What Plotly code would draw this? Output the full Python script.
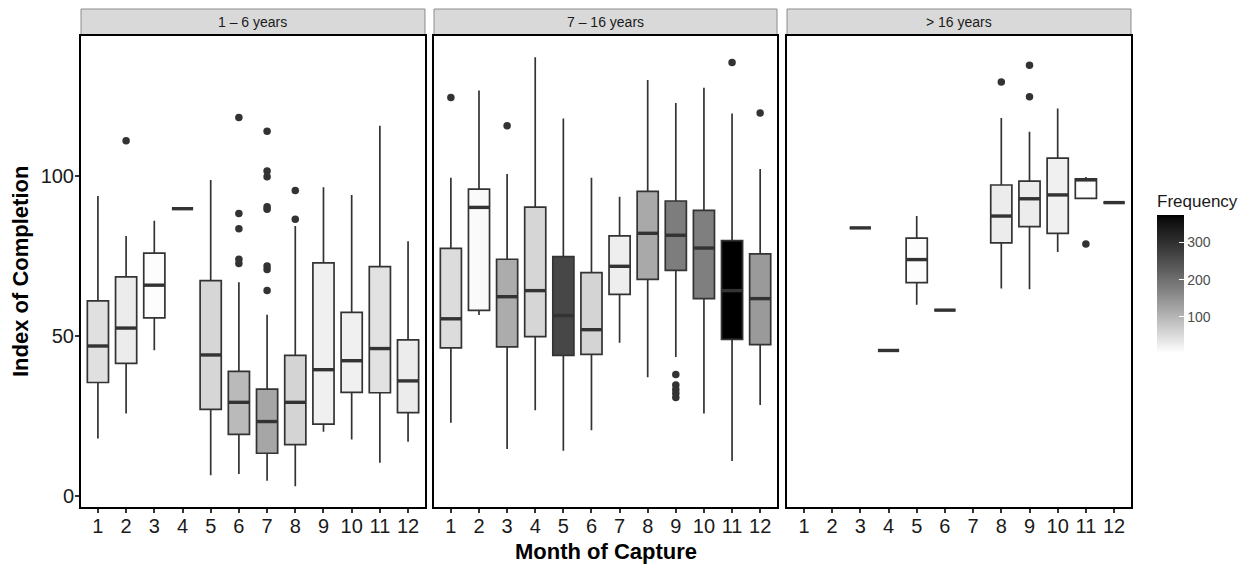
import plotly.graph_objects as go
from plotly.colors import sample_colorscale

months = list(range(1, 13))
month_labels = [str(m) for m in months]
panel_titles = ["1 – 6 years", "7 – 16 years", "> 16 years"]

# ---- 1 – 6 years -------------------------------------------------------
p1_low = [18.0, 25.8, 45.6, 89.8, 6.5, 6.9, 4.8, 3.1, 20.1, 17.7, 10.4, 17.0]
p1_q1 = [35.5, 41.5, 55.7, 89.8, 27.1, 19.3, 13.4, 16.1, 22.5, 32.4, 32.3, 26.1]
p1_med = [46.9, 52.5, 65.9, 89.8, 44.1, 29.3, 23.3, 29.3, 39.5, 42.3, 46.1, 36.0]
p1_q3 = [61.0, 68.5, 75.9, 89.8, 67.3, 39.0, 33.4, 44.0, 72.9, 57.4, 71.7, 48.8]
p1_high = [93.8, 81.3, 86.0, 89.8, 98.8, 66.8, 56.7, 84.4, 96.5, 94.1, 115.7, 79.6]
p1_freq = [41, 25, 3, 1, 55, 92, 120, 57, 20, 21, 38, 26]
p1_out_month = [2, 6, 6, 6, 6, 6, 7, 7, 7, 7, 7, 7, 7, 7, 8, 8]
p1_out_value = [111.0, 118.3, 88.3, 83.5, 74.0, 72.7,
                114.0, 101.6, 99.8, 90.4, 89.6, 71.9, 70.8, 64.2, 95.5, 86.5]

# ---- 7 – 16 years ------------------------------------------------------
p2_low = [22.9, 56.6, 14.7, 26.8, 14.2, 20.6, 47.9, 37.1, 43.5, 25.8, 11.0, 28.5]
p2_q1 = [46.3, 58.0, 46.6, 49.8, 44.0, 44.3, 63.0, 67.7, 70.5, 61.7, 49.0, 47.3]
p2_med = [55.4, 90.2, 62.3, 64.2, 56.4, 52.0, 71.8, 82.1, 81.5, 77.5, 64.2, 61.7]
p2_q3 = [77.4, 95.9, 74.0, 90.3, 74.8, 69.8, 81.3, 95.2, 92.2, 89.3, 79.8, 75.7]
p2_high = [99.5, 126.7, 100.6, 137.1, 118.0, 99.5, 93.5, 130.0, 122.8, 127.6, 119.5, 102.2]
p2_freq = [46, 7, 111, 55, 261, 57, 23, 115, 178, 175, 373, 136]
p2_out_month = [1, 3, 9, 9, 9, 9, 9, 11, 12]
p2_out_value = [124.5, 115.7, 38.0, 34.7, 33.3, 32.1, 30.8, 135.5, 119.7]

# ---- > 16 years --------------------------------------------------------
p3_low = [None, None, 83.8, 45.5, 59.8, 58.1, None, 64.9, 64.6, 76.3, 93.0, 91.7]
p3_q1 = [None, None, 83.8, 45.5, 66.7, 58.1, None, 79.1, 84.2, 82.1, 93.0, 91.7]
p3_med = [None, None, 83.8, 45.5, 73.9, 58.1, None, 87.5, 92.9, 94.1, 98.8, 91.7]
p3_q3 = [None, None, 83.8, 45.5, 80.6, 58.1, None, 97.2, 98.4, 105.6, 99.1, 91.7]
p3_high = [None, None, 83.8, 45.5, 87.5, 58.1, None, 118.1, 113.8, 121.1, 99.7, 91.7]
p3_freq = [None, None, 1, 1, 3, 1, None, 25, 25, 21, 4, 1]
p3_out_month = [8, 9, 9, 11]
p3_out_value = [129.4, 134.6, 124.8, 78.8]

freq_min, freq_max = 1, 373
freq_ticks = [100, 200, 300]
y_ticks = [0, 50, 100]


def lab_grey(t):
    """Grey from white to black, linear in CIE lightness."""
    L = 100.0 * (1.0 - t)
    fy = (L + 16.0) / 116.0
    Y = fy ** 3 if L > 8 else L / 903.3
    s = 12.92 * Y if Y <= 0.0031308 else 1.055 * Y ** (1 / 2.4) - 0.055
    g = max(0, min(255, round(255 * s)))
    return f"rgb({g},{g},{g})"


n_steps = 24
grey_scale = [[i / n_steps, lab_grey(i / n_steps)] for i in range(n_steps + 1)]

LINE = "#333333"
BOX_W = 0.75
FONT = "Arial, Liberation Sans, sans-serif"

panels = [
    (p1_low, p1_q1, p1_med, p1_q3, p1_high, p1_freq, p1_out_month, p1_out_value),
    (p2_low, p2_q1, p2_med, p2_q3, p2_high, p2_freq, p2_out_month, p2_out_value),
    (p3_low, p3_q1, p3_med, p3_q3, p3_high, p3_freq, p3_out_month, p3_out_value),
]

fig = go.Figure()

for k, (low, q1, med, q3, high, freq, om, ov) in enumerate(panels):
    xa = "x" if k == 0 else f"x{k + 1}"
    ya = "y" if k == 0 else f"y{k + 1}"
    mx, my = [], []
    for i, m in enumerate(months):
        if med[i] is None:
            continue
        t = (freq[i] - freq_min) / (freq_max - freq_min)
        fill = sample_colorscale(grey_scale, [t])[0]
        fig.add_trace(go.Box(
            x=[m], q1=[q1[i]], median=[med[i]], q3=[q3[i]],
            lowerfence=[low[i]], upperfence=[high[i]],
            width=BOX_W, whiskerwidth=0, boxpoints=False,
            fillcolor=fill, line=dict(color=LINE, width=1.7),
            xaxis=xa, yaxis=ya, showlegend=False, hoverinfo="skip",
        ))
        mx += [m - BOX_W / 2, m + BOX_W / 2, None]
        my += [med[i], med[i], None]
    # thicker median bars
    fig.add_trace(go.Scatter(
        x=mx, y=my, mode="lines", line=dict(color=LINE, width=3.4),
        xaxis=xa, yaxis=ya, showlegend=False, hoverinfo="skip",
    ))
    # outliers
    fig.add_trace(go.Scatter(
        x=om, y=ov, mode="markers",
        marker=dict(color=LINE, size=7.5),
        xaxis=xa, yaxis=ya, showlegend=False, hoverinfo="skip",
    ))

# colour bar for the frequency scale
fig.add_trace(go.Scatter(
    x=[None], y=[None], mode="markers", showlegend=False, hoverinfo="skip",
    marker=dict(
        color=[freq_min, freq_max], cmin=freq_min, cmax=freq_max,
        colorscale=grey_scale, showscale=True,
        colorbar=dict(
            title=dict(text="Frequency", side="top",
                       font=dict(family=FONT, size=17, color="#1a1a1a")),
            x=1.0248, xanchor="left", xref="paper",
            y=0.498, yanchor="middle", yref="paper",
            len=0.344, lenmode="fraction",
            thickness=27, thicknessmode="pixels",
            outlinewidth=0, xpad=0, ypad=0,
            tickvals=freq_ticks, ticks="inside", ticklen=5,
            tickcolor="white", tickwidth=1,
            tickfont=dict(family=FONT, size=14, color="#4d4d4d"),
        ),
    ),
))

domains = [[0.0, 0.3276], [0.3362, 0.6629], [0.6724, 1.0]]
axis_common = dict(
    showgrid=False, zeroline=False, showline=True, mirror=True,
    linecolor="black", linewidth=2,
)
layout = dict(
    width=1253, height=568,
    margin=dict(l=81, r=122, t=36, b=61),
    paper_bgcolor="white", plot_bgcolor="white",
    boxmode="overlay",
    font=dict(family=FONT, color="#1a1a1a"),
    showlegend=False,
)
for k in range(3):
    sx = "" if k == 0 else str(k + 1)
    layout[f"xaxis{sx}"] = dict(
        axis_common, domain=domains[k], range=[0.4, 12.6],
        tickmode="array", tickvals=months, ticktext=month_labels,
        ticks="outside", ticklen=4, tickwidth=1.5, tickcolor=LINE,
        ticklabelstandoff=-4,
        tickfont=dict(family=FONT, size=20, color="#1a1a1a"),
        anchor="y" if k == 0 else f"y{k + 1}",
    )
    ydict = dict(
        axis_common, range=[-3.4, 143.75],
        anchor="x" if k == 0 else f"x{k + 1}",
    )
    if k == 0:
        ydict.update(tickmode="array", tickvals=y_ticks,
                     ticks="outside", ticklen=4, tickwidth=1.5, tickcolor=LINE,
                     ticklabelstandoff=-3,
                     tickfont=dict(family=FONT, size=20, color="#1a1a1a"))
    else:
        ydict.update(matches="y", showticklabels=False, ticks="")
    layout[f"yaxis{sx}"] = ydict

fig.update_layout(**layout)

# facet strips
strip_top = 1 + 27 / 471
for k, title in enumerate(panel_titles):
    xr = "x domain" if k == 0 else f"x{k + 1} domain"
    yr = "y domain" if k == 0 else f"y{k + 1} domain"
    fig.add_shape(type="rect", xref=xr, yref=yr, x0=0, x1=1, y0=1.003, y1=strip_top,
                  fillcolor="#d9d9d9", line=dict(color="#8c8c8c", width=1), layer="below")
    fig.add_annotation(text=title, xref=xr, yref=yr, x=0.5, y=(1 + strip_top) / 2,
                       showarrow=False, xanchor="center", yanchor="middle",
                       font=dict(family=FONT, size=14, color="#1a1a1a"))

# axis titles
fig.add_annotation(text="<b>Month of Capture</b>", xref="paper", yref="paper",
                   x=0.5, y=-0.095, showarrow=False, xanchor="center", yanchor="middle",
                   font=dict(family=FONT, size=22, color="black"))
fig.add_annotation(text="<b>Index of Completion</b>", xref="paper", yref="paper",
                   x=-0.0571, y=0.499, textangle=-90, showarrow=False,
                   xanchor="center", yanchor="middle",
                   font=dict(family=FONT, size=22, color="black"))

fig.write_html("out.html")
